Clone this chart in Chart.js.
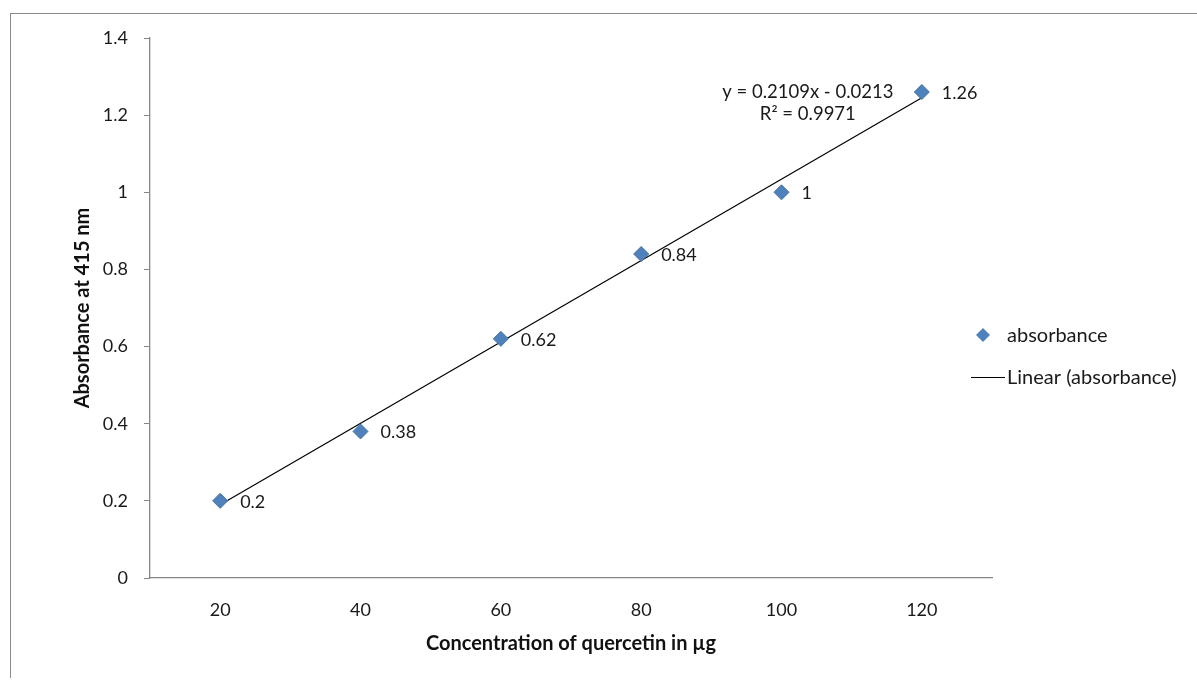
<!DOCTYPE html>
<html>
<head>
<meta charset="utf-8">
<script src="https://cdn.jsdelivr.net/npm/chart.js@4/dist/chart.umd.min.js"></script>
<style>
  html, body { margin: 0; padding: 0; background: #fff; }
  #wrap { position: relative; width: 1197px; height: 692px; overflow: hidden; }
  #frame {
    position: absolute; left: 10px; top: 13px; width: 1300px; height: 664px;
    border-left: 1px solid #8a8a8a; border-top: 1px solid #8a8a8a;
  }
  canvas { position: absolute; left: 0; top: 0; }
</style>
</head>
<body>
<div id="wrap">
  <div id="frame"></div>
  <canvas id="chart" width="1197" height="692"></canvas>
</div>
<script>
// concentration (µg) and absorbance at 415 nm
const CONC = [20, 40, 60, 80, 100, 120];
const ABSORBANCE = [0.2, 0.38, 0.62, 0.84, 1, 1.26];
// linear trendline end points
const TREND_X = [20, 120];
const TREND_Y = [0.19, 1.245];
const Y_TICKS = [0, 0.2, 0.4, 0.6, 0.8, 1, 1.2, 1.4];
const EQUATION = ['y = 0.2109x - 0.0213', 'R² = 0.9971'];

const FONT = 'Lato, "Open Sans", sans-serif';
const BLUE = '#4F81BD';

// point value labels, the trendline equation and a legend in the Excel style
const labelsPlugin = {
  id: 'excelBits',
  afterDatasetsDraw(chart) {
    const { ctx, chartArea, scales } = chart;
    const meta = chart.getDatasetMeta(0);
    ctx.save();
    ctx.font = '18px ' + FONT;
    ctx.fillStyle = '#1a1a1a';
    ctx.textAlign = 'left';
    ctx.textBaseline = 'middle';
    meta.data.forEach((pt, i) => {
      ctx.fillText(String(ABSORBANCE[i]), pt.x + 20, pt.y + 1);
    });

    // trendline equation, sitting left of the last point
    const ex = scales.x.getPixelForValue(TREND_X[1]) - 114;
    const ey = scales.y.getPixelForValue(TREND_Y[1]);
    ctx.textAlign = 'center';
    ctx.font = '18.5px ' + FONT;
    ctx.fillText(EQUATION[0], ex, ey - 6);
    ctx.fillText(EQUATION[1], ex, ey + 16);

    // legend
    const lx = chartArea.right - 9;
    ctx.font = '20px ' + FONT;
    ctx.textAlign = 'left';
    ctx.fillStyle = BLUE;
    ctx.beginPath();
    ctx.moveTo(lx, 335 - 7);
    ctx.lineTo(lx + 7, 335);
    ctx.lineTo(lx, 335 + 7);
    ctx.lineTo(lx - 7, 335);
    ctx.closePath();
    ctx.fill();
    ctx.fillStyle = '#1a1a1a';
    ctx.fillText(chart.data.datasets[0].label, lx + 24, 336);
    ctx.strokeStyle = '#000';
    ctx.lineWidth = 1.2;
    ctx.beginPath();
    ctx.moveTo(lx - 12, 377.5);
    ctx.lineTo(lx + 22, 377.5);
    ctx.stroke();
    ctx.fillText(chart.data.datasets[1].label, lx + 24, 378);
    ctx.restore();
  }
};

new Chart(document.getElementById('chart'), {
  type: 'scatter',
  data: {
    datasets: [
      {
        label: 'absorbance',
        data: CONC.map((x, i) => ({ x, y: ABSORBANCE[i] })),
        pointStyle: 'rectRot',
        pointRadius: 7.5,
        backgroundColor: BLUE,
        borderColor: '#44729f',
        borderWidth: 1,
        showLine: false,
        order: 1
      },
      {
        label: 'Linear (absorbance)',
        data: TREND_X.map((x, i) => ({ x, y: TREND_Y[i] })),
        showLine: true,
        borderColor: '#000',
        borderWidth: 1.2,
        pointRadius: 0,
        order: 2
      }
    ]
  },
  options: {
    responsive: false,
    animation: false,
    layout: { padding: { left: 71, top: 38, right: 205, bottom: 36 } },
    plugins: { legend: { display: false }, tooltip: { enabled: false } },
    scales: {
      x: {
        type: 'linear',
        min: 10,
        max: 130,
        afterBuildTicks: s => { s.ticks = CONC.map(v => ({ value: v })); },
        afterFit: s => { s.height = 78; },
        grid: { display: true, drawOnChartArea: false, drawTicks: false },
        border: { color: '#868686', width: 1.3 },
        ticks: { color: '#1a1a1a', font: { family: FONT, size: 18 }, padding: 21, maxRotation: 0 },
        title: {
          display: true,
          text: 'Concentration of quercetin in µg',
          color: '#111',
          font: { family: FONT, size: 20, weight: 'bold' },
          padding: { top: 0, bottom: 0 }
        }
      },
      y: {
        min: 0,
        max: 1.4,
        afterBuildTicks: s => { s.ticks = Y_TICKS.map(v => ({ value: v })); },
        afterFit: s => { s.width = 79; },
        grid: { display: true, drawOnChartArea: false, drawTicks: true, tickLength: 6, color: '#868686' },
        border: { color: '#868686', width: 1.3 },
        ticks: {
          color: '#1a1a1a',
          font: { family: FONT, size: 18 },
          padding: 16,
          callback: v => String(v)
        },
        title: {
          display: true,
          text: 'Absorbance at 415 nm',
          color: '#111',
          font: { family: FONT, size: 20, weight: 'bold' },
          padding: { top: 0, bottom: 0 }
        }
      }
    }
  },
  plugins: [labelsPlugin]
});
</script>
</body>
</html>
